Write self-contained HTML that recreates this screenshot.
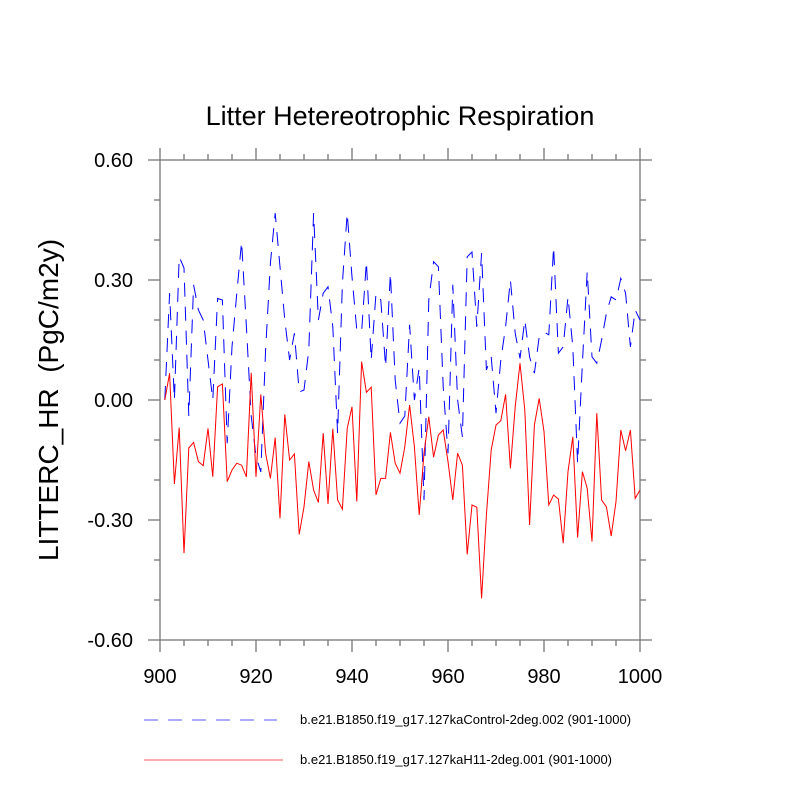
<!DOCTYPE html>
<html><head><meta charset="utf-8"><style>
html,body{margin:0;padding:0;background:#fff}
svg{display:block;font-family:"Liberation Sans",sans-serif}
</style></head><body>
<svg id="chart" width="800" height="800" xmlns="http://www.w3.org/2000/svg">
<text x="400" y="125" text-anchor="middle" font-size="27">Litter Hetereotrophic Respiration</text>
<text transform="translate(58,400) rotate(-90)" text-anchor="middle" font-size="28" xml:space="preserve">LITTERC_HR  (PgC/m2y)</text>
<g id="axes"></g>
<g id="series"></g>
<g>
<line x1="144" y1="720" x2="277" y2="720" stroke="#5a5aff" stroke-width="1" stroke-dasharray="14,10"/>
<text x="300" y="724" font-size="13">b.e21.B1850.f19_g17.127kaControl-2deg.002 (901-1000)</text>
<line x1="144" y1="760" x2="283" y2="760" stroke="#ff5a5a" stroke-width="1"/>
<text x="300" y="764" font-size="13">b.e21.B1850.f19_g17.127kaH11-2deg.001 (901-1000)</text>
</g>
</svg>
<script>
const startYear = 901;
const controlValues = [0.0,0.267,0.0,0.358,0.33,-0.04,0.288,0.225,0.2,0.1,0.0,0.254,0.25,-0.108,0.133,0.267,0.396,0.183,-0.04,-0.14,
-0.18,0.125,0.342,0.467,0.333,0.2,0.1,0.167,0.02,0.025,0.125,0.467,0.2,0.267,0.283,0.183,-0.083,0.292,0.467,0.308,
0.175,0.17,0.346,0.1,0.267,0.25,0.083,0.317,0.05,-0.058,-0.04,0.188,0.0,0.08,-0.25,0.25,0.346,0.333,0.033,-0.133,
0.288,0.0,-0.092,0.358,0.37,0.183,0.367,0.075,0.108,-0.033,0.1,0.183,0.3,0.167,0.104,0.2,0.108,0.067,0.158,0.17,
0.163,0.383,0.117,0.133,0.258,0.133,-0.158,0.092,0.321,0.108,0.092,0.15,0.217,0.258,0.25,0.304,0.267,0.133,0.225,0.2];
const h11Values = [0.0,0.067,-0.21,-0.069,-0.383,-0.12,-0.106,-0.154,-0.164,-0.071,-0.192,0.033,0.04,-0.204,-0.175,-0.158,-0.163,-0.192,0.068,-0.192,
0.014,-0.133,-0.196,-0.094,-0.296,-0.036,-0.15,-0.135,-0.336,-0.267,-0.154,-0.225,-0.256,-0.083,-0.26,-0.072,-0.25,-0.273,-0.071,-0.017,
-0.254,0.096,0.019,0.032,-0.237,-0.196,-0.196,-0.081,-0.158,-0.183,-0.117,-0.0125,-0.117,-0.2875,-0.133,-0.042,-0.143,-0.0875,-0.075,-0.154,
-0.25,-0.133,-0.163,-0.386,-0.2625,-0.268,-0.496,-0.2875,-0.125,-0.0625,-0.052,0.014,-0.171,-0.017,0.092,-0.025,-0.3125,-0.0625,0.004,-0.079,
-0.2625,-0.2375,-0.2475,-0.358,-0.179,-0.092,-0.344,-0.179,-0.221,-0.354,-0.033,-0.25,-0.267,-0.34,-0.254,-0.075,-0.127,-0.075,-0.246,-0.225];
const xTicks = [900,920,940,960,980,1000];
const yTicks = [-0.6,-0.3,0,0.3,0.6];
const yTickLabels = ["-0.60","-0.30","0.00","0.30","0.60"];

const L=160,R=640,T=160,B=640;
const xs=v=>L+(v-900)/100*(R-L);
const ys=v=>T+(0.6-v)/1.2*(B-T);
const NS="http://www.w3.org/2000/svg";
function mk(tag,attrs,parent){const e=document.createElementNS(NS,tag);for(const k in attrs)e.setAttribute(k,attrs[k]);parent.appendChild(e);return e;}
const axes=document.getElementById('axes');
const ac="#777";
const frame=mk('rect',{x:L,y:T,width:R-L,height:B-T,fill:'none',stroke:ac,'stroke-width':1.3},axes);


for(let i=0;i<xTicks.length;i++){
  const x=xs(xTicks[i]);
  const t1=mk('line',{x1:x,y1:B,x2:x,y2:B+12,stroke:ac,'stroke-width':1.3},axes);
  
  
  const t2=mk('line',{x1:x,y1:T,x2:x,y2:T-12,stroke:ac,'stroke-width':1.3},axes);
  
  
  const lb=mk('text',{x:x,y:B+43,'text-anchor':'middle','font-size':20},axes);
  lb.textContent=xTicks[i];
  
  
}
for(let v=905;v<1000;v+=5){ if(v%20===0)continue;
  const x=xs(v);
  const m1=mk('line',{x1:x,y1:B,x2:x,y2:B+6,stroke:ac,'stroke-width':1.3},axes);
  
  
  const m2=mk('line',{x1:x,y1:T,x2:x,y2:T-6,stroke:ac,'stroke-width':1.3},axes);
  
  
}
for(let i=0;i<yTicks.length;i++){
  const y=ys(yTicks[i]);
  const t1=mk('line',{x1:L-12,y1:y,x2:L,y2:y,stroke:ac,'stroke-width':1.3},axes);
  
  
  const t2=mk('line',{x1:R,y1:y,x2:R+12,y2:y,stroke:ac,'stroke-width':1.3},axes);
  
  
  const lb=mk('text',{x:L-27,y:y+7,'text-anchor':'end','font-size':20},axes);
  lb.textContent=yTickLabels[i];
  
  
}
for(let k=-5;k<=5;k++){ if(k%3===0)continue;
  const y=ys(k*0.1);
  const m1=mk('line',{x1:L-6,y1:y,x2:L,y2:y,stroke:ac,'stroke-width':1.3},axes);
  
  
  const m2=mk('line',{x1:R,y1:y,x2:R+6,y2:y,stroke:ac,'stroke-width':1.3},axes);
  
  
}
const ser=document.getElementById('series');
function pts(arr){return arr.map((v,i)=>xs(startYear+i).toFixed(2)+','+ys(v).toFixed(2)).join(' ');}
const blue=mk('polyline',{points:pts(controlValues),fill:'none',stroke:'#0000ff','stroke-width':1,'stroke-dasharray':'14,10'},ser);


const red=mk('polyline',{points:pts(h11Values),fill:'none',stroke:'#ff0000','stroke-width':1},ser);


</script>
</body></html>
